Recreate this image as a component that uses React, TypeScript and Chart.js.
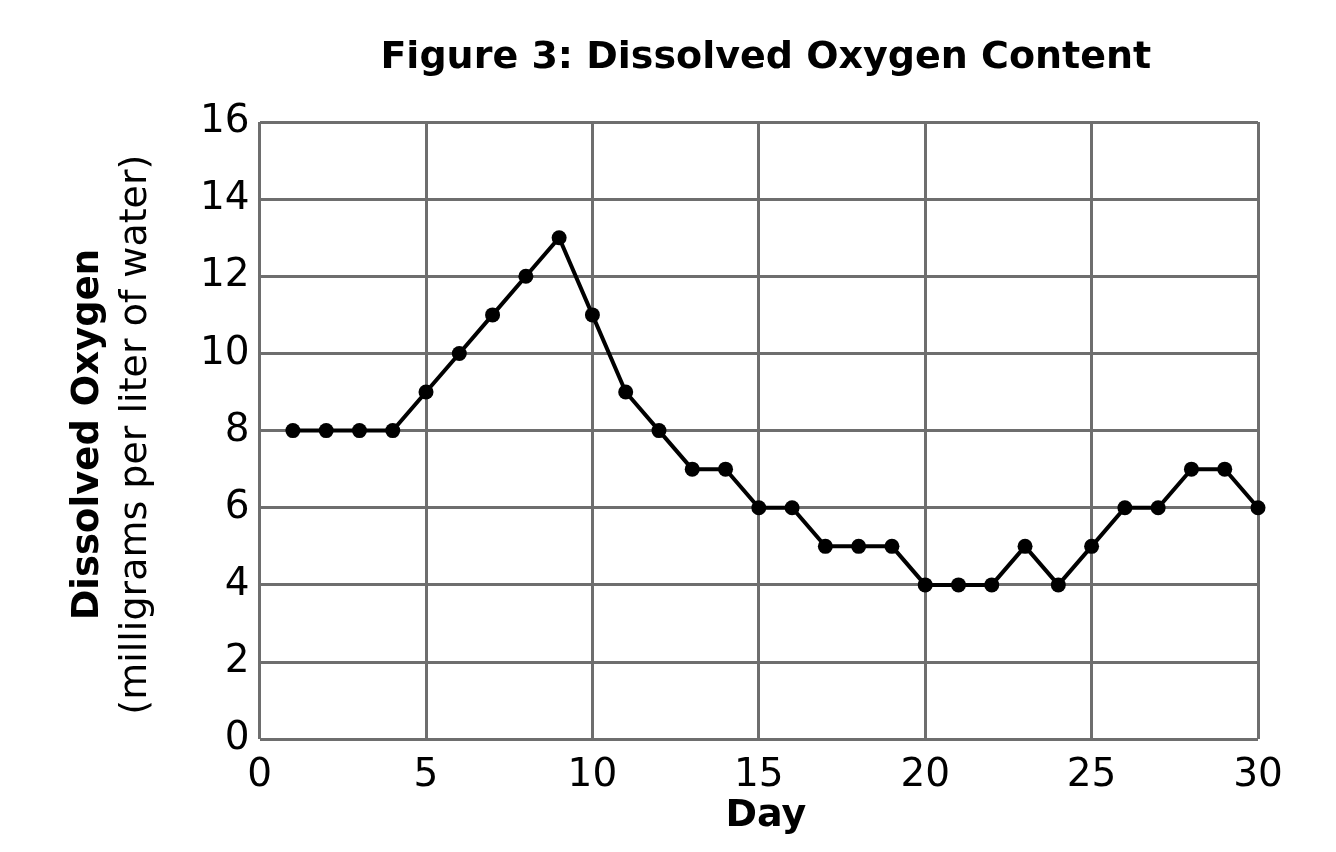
import React, { useEffect, useRef } from "react";
import { Chart, registerables } from "chart.js";

Chart.register(...registerables);

const days = [1, 2, 3, 4, 5, 6, 7, 8, 9, 10, 11, 12, 13, 14, 15, 16, 17, 18, 19, 20, 21, 22, 23, 24, 25, 26, 27, 28, 29, 30];
const oxygen = [8, 8, 8, 8, 9, 10, 11, 12, 13, 11, 9, 8, 7, 7, 6, 6, 5, 5, 5, 4, 4, 4, 5, 4, 5, 6, 6, 7, 7, 6];
const chartTitle = "Figure 3: Dissolved Oxygen Content";
const xTitle = "Day";
const yTitleBold = "Dissolved Oxygen";
const yTitleSub = "(milligrams per liter of water)";

const FONT = "'DejaVu Sans', Verdana, sans-serif";

const titlesPlugin = {
  id: "titles",
  afterDraw(chart: any) {
    const { ctx, chartArea } = chart;
    const cy = (chartArea.top + chartArea.bottom) / 2;
    const cx = (chartArea.left + chartArea.right) / 2 + 7;
    ctx.save();
    ctx.fillStyle = "#000";
    ctx.textAlign = "center";
    ctx.textBaseline = "middle";
    // main title
    ctx.font = `bold 38px ${FONT}`;
    ctx.fillText(chartTitle, cx, 50);
    // x-axis title
    ctx.font = `bold 38px ${FONT}`;
    ctx.fillText(xTitle, cx, 808);
    // y-axis titles
    ctx.translate(80, cy + 4);
    ctx.rotate(-Math.PI / 2);
    ctx.font = `bold 37px ${FONT}`;
    ctx.fillText(yTitleBold, 0, 0);
    ctx.font = `38px ${FONT}`;
    ctx.fillText(yTitleSub, 0, 48);
    ctx.restore();
  },
};

export default function App() {
  const ref = useRef<HTMLCanvasElement>(null);
  useEffect(() => {
    if (!ref.current) return;
    const chart = new Chart(ref.current, {
      type: "line",
      data: {
        datasets: [
          {
            data: days.map((d, i) => ({ x: d, y: oxygen[i] })),
            borderColor: "#000",
            backgroundColor: "#000",
            borderWidth: 4,
            pointRadius: 7.5,
            pointBackgroundColor: "#000",
            pointBorderWidth: 0,
            tension: 0,
            clip: false,
          },
        ],
      },
      options: {
        animation: false,
        responsive: false,
        layout: { padding: { left: 182, right: 70, top: 114, bottom: 32 } },
        plugins: {
          legend: { display: false },
          tooltip: { enabled: false },
          title: { display: false },
        },
        scales: {
          x: {
            type: "linear",
            min: 0,
            max: 30,
            ticks: { stepSize: 5, color: "#000", font: { family: FONT, size: 39 }, padding: 13, maxRotation: 0 },
            grid: { color: "#6e6e6e", lineWidth: 3, drawTicks: false },
            border: { display: false },
          },
          y: {
            min: 0,
            max: 16,
            ticks: { stepSize: 2, color: "#000", font: { family: FONT, size: 39 }, padding: 10 },
            grid: { color: "#6e6e6e", lineWidth: 3, drawTicks: false },
            border: { display: false },
          },
        },
      },
      plugins: [titlesPlugin],
    });
    return () => chart.destroy();
  }, []);
  return (
    <div style={{ width: 1320, height: 836 }}>
      <canvas ref={ref} width={1320} height={836} style={{ width: 1320, height: 836 }} />
    </div>
  );
}
